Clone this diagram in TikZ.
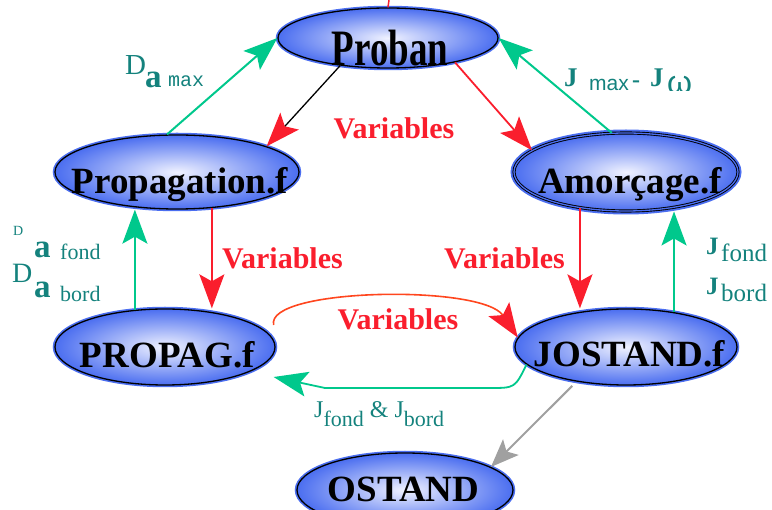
\documentclass[tikz,border=0pt]{standalone}
\usepackage{fontspec}
\setmainfont{Liberation Serif}
\newfontfamily\sansf{Liberation Sans}
\newfontfamily\monof{Liberation Mono}
\usetikzlibrary{shapes.geometric,arrows.meta}
\definecolor{myred}{RGB}{250,30,45}
\definecolor{myorange}{RGB}{255,70,30}
\definecolor{mygreen}{RGB}{0,200,140}
\definecolor{myteal}{RGB}{20,130,125}
\definecolor{myblue}{RGB}{75,110,240}
\definecolor{mylight}{RGB}{240,242,255}
\definecolor{mygray}{RGB}{160,160,160}
\tikzset{
  bighead/.tip={Stealth[length=34pt, width=25pt, inset=7pt]},
  grayhead/.tip={Stealth[length=28pt, width=22pt, inset=6pt]}
}
\begin{document}
\begin{tikzpicture}[x=1pt,y=-1pt,
  oval/.style={ellipse, inner sep=0pt, draw=black, line width=1.3pt,
    inner color=mylight, outer color=myblue,
    preaction={draw=myblue, line width=4.5pt}},
  dbloval/.style={ellipse, inner sep=0pt, draw=black, line width=0.9pt,
    double=myblue, double distance=1.3pt,
    inner color=mylight, outer color=myblue,
    preaction={draw=myblue, line width=7pt}},
  lbl/.style={font=\bfseries\fontsize{37}{37}\selectfont, anchor=base, inner sep=0pt},
  varlbl/.style={font=\bfseries\fontsize{30}{30}\selectfont, text=myred, anchor=base, inner sep=0pt},
  tl/.style={anchor=base west, inner sep=0pt, text=myteal},
  rarrow/.style={draw=myred, line width=1.8pt, -{bighead}},
  garrow/.style={draw=mygreen, line width=2pt, -{bighead}},
  grayarrow/.style={draw=mygray, line width=2pt, -{grayhead}}
]
\useasboundingbox (0,0) rectangle (772,510);
\clip (0,0) rectangle (772,510);

% ellipses
\node[oval, minimum width=220pt, minimum height=60pt] (proban) at (388,38) {};
\node[oval, minimum width=244pt, minimum height=74pt] (prop) at (177,172) {};
\node[dbloval, minimum width=224pt, minimum height=78pt] (amor) at (626,172) {};
\node[oval, minimum width=220pt, minimum height=76pt] (propag) at (165,347) {};
\node[oval, minimum width=222pt, minimum height=76pt] (jost) at (626,347) {};
\node[oval, minimum width=216pt, minimum height=74pt] (ostand) at (405,490) {};

% node texts
\node[lbl] (tproban) at (390,66) {\scalebox{1}[1.38]{Proban}};
\node[lbl] (tprop) at (180,194) {Propagation.f};
\node[lbl] (tamor) at (630,194) {Amorçage.f};
\node[lbl] (tpropag) at (167.5,368) {PROPAG.f};
\node[lbl] (tjost) at (629.5,367) {JOSTAND.f};
\node[lbl] (tostand) at (403.5,501.5) {OSTAND};

% stray red tick above Proban
\coordinate (topin) at (389,0);
\draw[myred, line width=1.5pt] (topin) -- (proban.north);

% straight connectors
\draw[garrow] (prop.105) -- (proban.west);
\draw[black, line width=1.3pt, -{bighead[color=myred]}] (proban.210) -- (prop.16);
\draw[rarrow] (proban.340) -- (amor.167);
\draw[garrow] (amor.110) -- (proban.east);
\draw[rarrow] (prop.314) -- (prop.314 |- propag.north);
\draw[garrow] (propag.129) -- (propag.129 |- prop.south);
\draw[rarrow] (amor.218) -- (amor.218 |- jost.north);
\draw[garrow] (jost.36) -- (jost.36 |- amor.south);
\draw[grayarrow, shorten <=6pt] (jost.215) -- (ostand.15);

% curved connectors
\draw[myorange, line width=1.6pt, -{bighead[color=myred]}]
  ([xshift=-2pt,yshift=22pt]propag.east) .. controls (265,288) and (482,284) .. (jost.175);
\draw[mygreen, line width=1.8pt, -{bighead}]
  (jost.190) .. controls (515,388) .. (490,388) -- (325,388) -- ([xshift=-2pt,yshift=-30pt]propag.east);

% Variables labels
\node[varlbl] (v1) at (394,139) {Variables};
\node[varlbl] (v2) at (282.5,269) {Variables};
\node[varlbl] (v3) at (504.5,269) {Variables};
\node[varlbl] (v4) at (398,330) {Variables};

% teal labels: D a max
\node[tl, font=\fontsize{29}{29}\selectfont] (da1) at (125,75) {D};
\node[tl, font=\bfseries\fontsize{33}{33}\selectfont] (da2) at (145,88) {a};
\node[tl, font=\fontsize{20}{20}\monof] (da3) at (168,87) {max};

% left labels
\node[tl, font=\fontsize{14}{14}\selectfont] (lf1) at (13,236) {D};
\node[tl, font=\bfseries\fontsize{33}{33}\selectfont] (lf2) at (34,258) {a};
\node[tl, font=\fontsize{22}{22}\selectfont] (lf3) at (60,260) {fond};
\node[tl, font=\fontsize{28}{28}\selectfont] (lb1) at (12,283) {D};
\node[tl, font=\bfseries\fontsize{33}{33}\selectfont] (lb2) at (34,298) {a};
\node[tl, font=\fontsize{22}{22}\selectfont] (lb3) at (60,302) {bord};

% right labels
\node[tl, font=\bfseries\fontsize{25}{25}\selectfont] (rf1) at (706,255) {J};
\node[tl, font=\fontsize{25}{25}\selectfont] (rf2) at (721,262) {fond};
\node[tl, font=\bfseries\fontsize{25}{25}\selectfont] (rb1) at (706,295) {J};
\node[tl, font=\fontsize{25}{25}\selectfont] (rb2) at (721,302) {bord};

% bottom label
\node[tl, font=\fontsize{24}{24}\selectfont] (jj) at (314,418)
  {J\raisebox{-9pt}{\fontsize{22}{22}\selectfont fond} \& J\raisebox{-9pt}{\fontsize{22}{22}\selectfont bord}};

% top right clipped label
\begin{scope}
\clip (550,55) rectangle (700,90.5);
\node[tl, font=\bfseries\fontsize{27}{27}\selectfont] (jm1) at (564,87) {J};
\node[tl, font=\fontsize{21}{21}\sansf] (jm2) at (589,91) {max};
\node[tl, font=\bfseries\fontsize{24}{24}\selectfont] (jm3) at (632,88) {-};
\node[tl, font=\bfseries\fontsize{27}{27}\selectfont] (jm4) at (650,87) {J};
\node[tl, font=\fontsize{32}{32}\sansf] (jm5) at (667,94) {ω};
\end{scope}
\end{tikzpicture}
\end{document}
